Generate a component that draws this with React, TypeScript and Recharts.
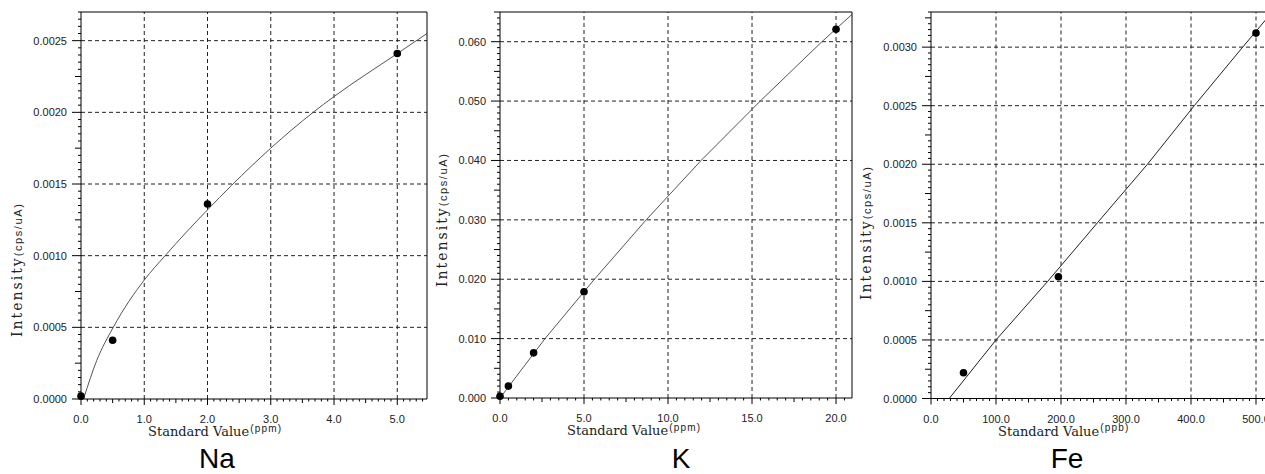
import React from 'react';
import { ComposedChart, Line, Scatter, XAxis, YAxis, ReferenceLine } from 'recharts';

// ---------- Na ----------
const naStdValue = [0, 0.5, 2.0, 5.0];
const naIntensity = [0.00002, 0.00041, 0.00136, 0.00241];
const naCurveX = [0.04, 0.25, 0.51, 1.0, 1.33, 2.0, 2.38, 3.0, 3.67, 4.0, 5.0, 5.47];
const naCurveY = [0, 0.00027, 0.0005, 0.00083, 0.001, 0.00132, 0.00149, 0.00175, 0.002, 0.00211, 0.00241, 0.00255];
const naXTicks = [0, 1, 2, 3, 4, 5];
const naXTickLabels = ['0.0', '1.0', '2.0', '3.0', '4.0', '5.0'];
const naYTicks = [0, 0.0005, 0.001, 0.0015, 0.002, 0.0025];
const naYTickLabels = ['0.0000', '0.0005', '0.0010', '0.0015', '0.0020', '0.0025'];

// ---------- K ----------
const kStdValue = [0, 0.5, 2.0, 5.0, 20.0];
const kIntensity = [0.0003, 0.002, 0.0076, 0.0179, 0.0621];
const kCurveX = [0, 2.68, 5.62, 8.7, 11.97, 15.49, 19.16, 20.95];
const kCurveY = [0, 0.01, 0.02, 0.03, 0.04, 0.05, 0.06, 0.0646];
const kXTicks = [0, 5, 10, 15, 20];
const kXTickLabels = ['0.0', '5.0', '10.0', '15.0', '20.0'];
const kYTicks = [0, 0.01, 0.02, 0.03, 0.04, 0.05, 0.06];
const kYTickLabels = ['0.000', '0.010', '0.020', '0.030', '0.040', '0.050', '0.060'];

// ---------- Fe ----------
const feStdValue = [50, 196, 500];
const feIntensity = [0.00022, 0.00104, 0.00312];
const feCurveX = [28, 100, 179.5, 256, 333, 405, 479.5, 525];
const feCurveY = [0, 0.0005, 0.001, 0.0015, 0.002, 0.0025, 0.003, 0.0033];
const feXTicks = [0, 100, 200, 300, 400, 500];
const feXTickLabels = ['0.0', '100.0', '200.0', '300.0', '400.0', '500.0'];
const feYTicks = [0, 0.0005, 0.001, 0.0015, 0.002, 0.0025, 0.003];
const feYTickLabels = ['0.0000', '0.0005', '0.0010', '0.0015', '0.0020', '0.0025', '0.0030'];

const SANS = '"Liberation Sans", Arial, sans-serif';
const SERIF = '"DejaVu Serif", serif';
const HEIGHT = 474;
const Y_AXIS_W = 60;
const X_AXIS_H = 30;

const toPoints = (xs: number[], ys: number[]) => xs.map((x, i) => ({ x, y: ys[i] }));

const minorTicks = (max: number, step: number) => {
  const n = Math.floor(max / step + 1e-6);
  return Array.from({ length: n + 1 }, (_, i) => +(i * step).toFixed(9));
};

type Cfg = {
  name: string;
  unit: string;
  unitDy: number;
  divLeft: number;
  width: number;
  plot: { left: number; top: number; right: number; bottom: number }; // chart-local px
  points: { x: number; y: number }[];
  curve: { x: number; y: number }[];
  curveType: 'monotone' | 'linear';
  curveColor: string;
  xDomain: [number, number];
  yDomain: [number, number];
  xTicks: number[];
  xTickLabels: string[];
  xMinor: number;
  yTicks: number[];
  yTickLabels: string[];
  yMinor: number;
  yLabelX: number;
  yLabelY: number;
  titleX: number;
};

const panels: Cfg[] = [
  {
    name: 'Na', unit: '(ppm)', unitDy: -4, divLeft: 0, width: 440,
    plot: { left: 81, top: 12, right: 427, bottom: 399 },
    points: toPoints(naStdValue, naIntensity), curve: toPoints(naCurveX, naCurveY),
    curveType: 'monotone', curveColor: '#555',
    xDomain: [0, 5.47], yDomain: [0, 0.0027],
    xTicks: naXTicks, xTickLabels: naXTickLabels, xMinor: 0.1,
    yTicks: naYTicks, yTickLabels: naYTickLabels, yMinor: 0.00005,
    yLabelX: 22, yLabelY: 337, titleX: 217,
  },
  {
    name: 'K', unit: '(ppm)', unitDy: -4, divLeft: 420, width: 450,
    plot: { left: 80, top: 12, right: 432, bottom: 398 },
    points: toPoints(kStdValue, kIntensity), curve: toPoints(kCurveX, kCurveY),
    curveType: 'linear', curveColor: '#555',
    xDomain: [0, 20.95], yDomain: [0, 0.065],
    xTicks: kXTicks, xTickLabels: kXTickLabels, xMinor: 0.5,
    yTicks: kYTicks, yTickLabels: kYTickLabels, yMinor: 0.001,
    yLabelX: 27, yLabelY: 287, titleX: 261,
  },
  {
    name: 'Fe', unit: '(ppb)', unitDy: -4.5, divLeft: 850, width: 450,
    plot: { left: 81, top: 12, right: 432, bottom: 398.5 },
    points: toPoints(feStdValue, feIntensity), curve: toPoints(feCurveX, feCurveY),
    curveType: 'linear', curveColor: '#222',
    xDomain: [0, 540], yDomain: [0, 0.0033],
    xTicks: feXTicks, xTickLabels: feXTickLabels, xMinor: 10,
    yTicks: feYTicks, yTickLabels: feYTickLabels, yMinor: 0.00005,
    yLabelX: 21, yLabelY: 300, titleX: 217,
  },
];

const makeXTick = (cfg: Cfg) => (props: any) => {
  const { x, y, payload } = props;
  const v = payload.value as number;
  const i = Math.round(v / cfg.xMinor);
  const major = i % 10 === 0;
  const mid = !major && i % 5 === 0;
  const len = major ? 6 : mid ? 4 : 2.5;
  const idx = cfg.xTicks.findIndex((m) => Math.abs(m - v) < cfg.xMinor / 2);
  return (
    <g>
      <line x1={x} x2={x} y1={y} y2={y + len} stroke="#000" strokeWidth={1} />
      {major && idx >= 0 && (
        <text x={x} y={y + 24} textAnchor="middle" fontFamily={SANS} fontSize={11} fill="#222">
          {cfg.xTickLabels[idx]}
        </text>
      )}
    </g>
  );
};

const makeYTick = (cfg: Cfg) => (props: any) => {
  const { x, y, payload } = props;
  const v = payload.value as number;
  const i = Math.round(v / cfg.yMinor);
  const major = i % 10 === 0;
  const mid = !major && i % 5 === 0;
  const len = major ? 9 : mid ? 6 : 3;
  const idx = cfg.yTicks.findIndex((m) => Math.abs(m - v) < cfg.yMinor / 2);
  return (
    <g>
      <line x1={x - len} x2={x} y1={y} y2={y} stroke="#000" strokeWidth={1} />
      {major && idx >= 0 && (
        <text x={x - 14} y={y + 4} textAnchor="end" fontFamily={SANS} fontSize={11} fill="#222">
          {cfg.yTickLabels[idx]}
        </text>
      )}
    </g>
  );
};

const dot = (p: any) => <circle cx={p.cx} cy={p.cy} r={3.8} fill="#000" />;

function Panel({ cfg }: { cfg: Cfg }) {
  const { plot } = cfg;
  const margin = {
    top: plot.top - 1,
    left: plot.left - Y_AXIS_W,
    right: cfg.width - plot.right - 1,
    bottom: HEIGHT - plot.bottom - X_AXIS_H,
  };
  const labels = () => (
    <g>
      <text x={plot.left + 67} y={plot.bottom + 37} fontFamily={SERIF} fontSize={13} fill="#222">
        Standard Value
        <tspan fontFamily={SANS} fontSize={10} dy={cfg.unitDy} dx={1} letterSpacing={1.2}>
          {cfg.unit}
        </tspan>
      </text>
      <text
        transform={`translate(${cfg.yLabelX},${cfg.yLabelY}) rotate(-90)`}
        fontFamily={SERIF}
        fontSize={14}
        letterSpacing={2}
        fill="#222"
      >
        Intensity
        <tspan fontFamily={SANS} fontSize={11} letterSpacing={1.6}>(cps/uA)</tspan>
      </text>
      <text x={cfg.titleX} y={468} textAnchor="middle" fontFamily={SANS} fontSize={28} fill="#000">
        {cfg.name}
      </text>
    </g>
  );
  return (
    <ComposedChart width={cfg.width} height={HEIGHT} margin={margin}>
      <XAxis
        xAxisId={0}
        dataKey="x"
        type="number"
        domain={cfg.xDomain}
        ticks={minorTicks(cfg.xDomain[1], cfg.xMinor)}
        interval={0}
        tickSize={0}
        tickMargin={0}
        tickLine={false}
        tick={makeXTick(cfg)}
        axisLine={{ stroke: '#000' }}
        height={X_AXIS_H}
        label={labels}
      />
      <XAxis
        xAxisId="top"
        orientation="top"
        type="number"
        domain={cfg.xDomain}
        tick={false}
        tickLine={false}
        axisLine={{ stroke: '#000' }}
        height={1}
      />
      <YAxis
        yAxisId={0}
        dataKey="y"
        type="number"
        domain={cfg.yDomain}
        ticks={minorTicks(cfg.yDomain[1], cfg.yMinor)}
        interval={0}
        tickSize={0}
        tickMargin={0}
        tickLine={false}
        tick={makeYTick(cfg)}
        axisLine={{ stroke: '#000' }}
        width={Y_AXIS_W}
      />
      <YAxis
        yAxisId="right"
        orientation="right"
        type="number"
        domain={cfg.yDomain}
        tick={false}
        tickLine={false}
        axisLine={{ stroke: '#000' }}
        width={1}
      />
      {cfg.xTicks.filter((v) => v > 0).map((v) => (
        <ReferenceLine key={'gx' + v} x={v} stroke="#222" strokeDasharray="4 3" />
      ))}
      {cfg.yTicks.filter((v) => v > 0).map((v) => (
        <ReferenceLine key={'gy' + v} y={v} stroke="#222" strokeDasharray="4 3" />
      ))}
      <Line
        data={cfg.curve}
        dataKey="y"
        type={cfg.curveType}
        stroke={cfg.curveColor}
        strokeWidth={1}
        dot={false}
        activeDot={false}
        isAnimationActive={false}
      />
      <Scatter data={cfg.points} dataKey="y" fill="#000" shape={dot} isAnimationActive={false} />
    </ComposedChart>
  );
}

export default function App() {
  return (
    <div
      style={{
        position: 'fixed',
        left: 0,
        top: 0,
        width: 1265,
        height: 474,
        overflow: 'hidden',
        background: '#fff',
      }}
    >
      {panels.map((cfg) => (
        <div key={cfg.name} style={{ position: 'absolute', left: cfg.divLeft, top: 0 }}>
          <Panel cfg={cfg} />
        </div>
      ))}
    </div>
  );
}
